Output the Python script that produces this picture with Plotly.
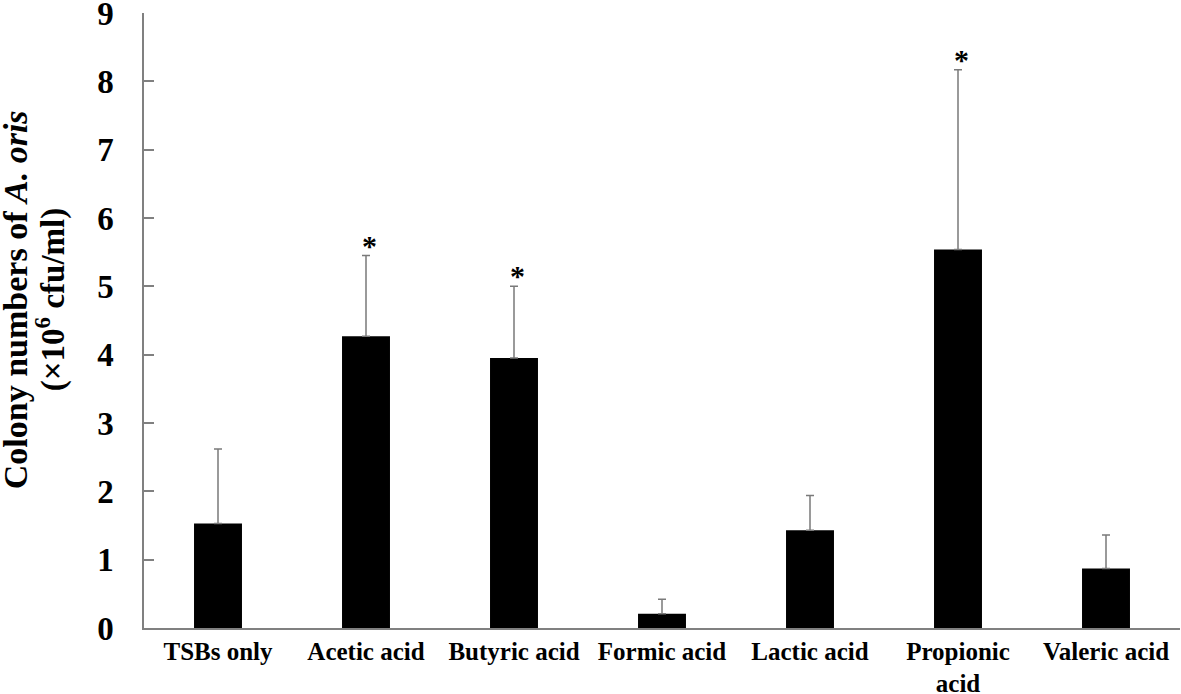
import plotly.graph_objects as go

# values
categories = ['TSBs only', 'Acetic acid', 'Butyric acid', 'Formic acid',
              'Lactic acid', 'Propionic<br>acid', 'Valeric acid']
means = [1.53, 4.27, 3.95, 0.21, 1.43, 5.54, 0.87]
sd = [1.09, 1.18, 1.05, 0.21, 0.51, 2.63, 0.49]
significant = [False, True, True, False, False, True, False]

serif = 'Liberation Serif, Times New Roman, serif'

fig = go.Figure()
fig.add_bar(
    x=categories, y=means,
    marker=dict(color='black', line=dict(color='black', width=0)),
    width=0.324,
    error_y=dict(type='data', array=sd, symmetric=False, arrayminus=[0] * len(sd),
                 color='#7a7a7a', thickness=1.5, width=4),
    showlegend=False,
)

# asterisks above the significant bars
for cat, m, s, sig in zip(categories, means, sd, significant):
    if sig:
        fig.add_annotation(x=cat, y=m + s, text='<b>*</b>', showarrow=False,
                           yanchor='bottom', yshift=-8, xshift=3,
                           font=dict(family=serif, size=30, color='black'))

# y title, two lines drawn separately to keep them close together
fig.add_annotation(
    xref='paper', yref='paper', x=0, y=0.533, xshift=-129,
    text='<b>Colony numbers of <i>A. oris</i></b>',
    textangle=-90, showarrow=False, xanchor='center', yanchor='middle',
    font=dict(family=serif, size=34, color='black'),
)
fig.add_annotation(
    xref='paper', yref='paper', x=0, y=0.533, xshift=-94,
    text='<b>(×10<sup>6</sup> cfu/ml)</b>',
    textangle=-90, showarrow=False, xanchor='center', yanchor='middle',
    font=dict(family=serif, size=33, color='black'),
)

fig.update_xaxes(
    automargin=False,
    showline=True, linecolor='#808080', linewidth=1.5,
    ticks='', tickfont=dict(family=serif, size=25, color='black'),
    tickprefix='<b>', ticksuffix='</b>',
)
fig.update_yaxes(
    automargin=False,
    range=[0, 9], dtick=1, showgrid=False, zeroline=False,
    showline=True, linecolor='#808080', linewidth=1.5,
    ticks='inside', ticklen=10, tickcolor='#808080', tickwidth=1.5,
    tickfont=dict(family=serif, size=33, color='black'),
    tickprefix='<b>', ticksuffix='</b>', ticklabelstandoff=22,
    ticklabeloverflow='allow',
)
fig.update_layout(
    width=1181, height=694,
    plot_bgcolor='white', paper_bgcolor='white',
    margin=dict(l=144, r=1, t=13, b=66),
    bargap=0.676,
)

# drop the page's default body margin so the figure sits at the corner
fig.write_html('out.html', config={'displayModeBar': False},
               post_script="document.body.style.margin = '0';")
